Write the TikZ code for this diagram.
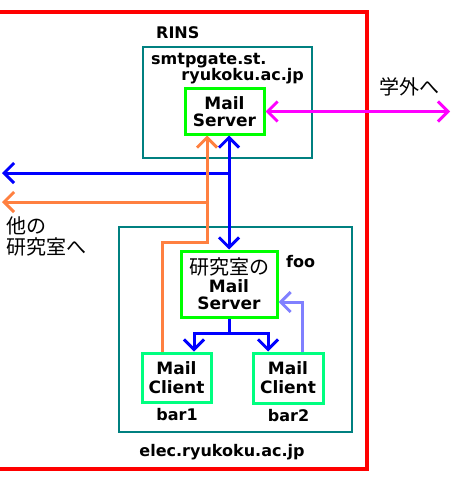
\documentclass[tikz,border=0pt]{standalone}
\usepackage{fontspec}
\setmainfont{DejaVu Sans}
\newfontfamily\jp{Noto Sans CJK JP}
\usetikzlibrary{arrows.meta}
\definecolor{framered}{RGB}{255,0,0}
\definecolor{domainteal}{RGB}{0,128,128}
\definecolor{servergreen}{RGB}{0,255,0}
\definecolor{clientgreen}{RGB}{0,255,128}
\definecolor{relayorange}{RGB}{255,128,64}
\definecolor{mailblue}{RGB}{0,0,255}
\definecolor{replyblue}{RGB}{128,128,255}
\definecolor{outmagenta}{RGB}{255,0,255}
\tikzset{
  domainbox/.style={draw=domainteal, line width=2.5pt, inner sep=0pt},
  serverbox/.style={draw=servergreen, line width=3pt, inner sep=0pt, align=center,
    font=\bfseries\fontsize{17}{17.5}\selectfont},
  clientbox/.style={draw=clientgreen, line width=3pt, inner sep=0pt, align=center,
    font=\bfseries\fontsize{17}{19}\selectfont},
  hostname/.style={inner sep=0pt, font=\bfseries\fontsize{16}{17}\selectfont},
  jpnote/.style={inner sep=0pt, align=left, font=\jp\fontsize{20}{21}\selectfont},
  barb/.tip={Straight Barb[length=10pt, width=20pt]},
  mailline/.style={line width=3pt, -barb},
}
\begin{document}
\begin{tikzpicture}[x=1pt, y=-1pt]
  \useasboundingbox (0,0) rectangle (475,500);
  \draw [framered, line width=4pt] (-10,12) -| (367,469) -- (-10,469);

  \node [domainbox, minimum width=169pt, minimum height=111pt] (rins) at (227.5,102.5) {};
  \node [hostname, anchor=base west] (rinsname) at (156,39) {RINS};
  \node [hostname, anchor=base west] (gate1) at (151,65) {smtpgate.st.};
  \node [hostname, anchor=base east] (gate2) at (304,81) {ryukoku.ac.jp};
  \node [serverbox, minimum width=79pt, minimum height=45pt] (srv) at (224.5,111.5) {Mail\\Server};
  \coordinate (outside) at (450,110);
  \node [jpnote] (gakugai) at (409,87) {学外へ};

  \node [domainbox, minimum width=233pt, minimum height=205pt] (elec) at (235.5,329.5) {};
  \node [serverbox, minimum width=96pt, minimum height=66pt] (lab) at (229,284)
    {{\jp\mdseries\fontsize{20}{20}\selectfont 研究室の}\\Mail\\Server};
  \node [hostname, anchor=base west] (foo) at (286,267) {foo};
  \node [clientbox, minimum width=69pt, minimum height=49pt] (bar1) at (176.5,377.5) {Mail\\Client};
  \node [clientbox, minimum width=70pt, minimum height=50pt] (bar2) at (288,378) {Mail\\Client};
  \node [hostname, anchor=base] (bar1name) at (177,420) {bar1};
  \node [hostname, anchor=base] (bar2name) at (288.5,421.5) {bar2};
  \node [hostname, anchor=base] (elecname) at (222,456) {elec.ryukoku.ac.jp};
  \node [jpnote, anchor=north west] (others) at (6,217) {他の\\研究室へ};

  \coordinate (westblue) at (2,173);
  \coordinate (westorange) at (2,202);
  \path ([xshift=4.5pt]srv.south) coordinate (blueup);
  \path ([xshift=-17.5pt]srv.south) coordinate (orangeup);

  \draw [mailline, outmagenta, barb-barb] (srv.east) -- (srv.east -| outside);
  \draw [mailline, mailblue, barb-barb] (blueup) -- (lab.north);
  \draw [mailline, mailblue] (blueup |- westblue) -- (westblue);
  \draw [mailline, relayorange] ([xshift=-14.5pt]bar1.north) -- ++(0,-109) -| (orangeup);
  \draw [mailline, relayorange] (orangeup |- westorange) -- (westorange);
  \draw [mailline, mailblue] (lab.south) -- ++(0,15) coordinate (fork) -| ([xshift=17.5pt]bar1.north);
  \draw [mailline, mailblue] (fork) -| ([xshift=-20pt]bar2.north);
  \draw [mailline, replyblue] ([xshift=14pt]bar2.north) |- ([yshift=-18pt]lab.east);
\end{tikzpicture}
\end{document}
